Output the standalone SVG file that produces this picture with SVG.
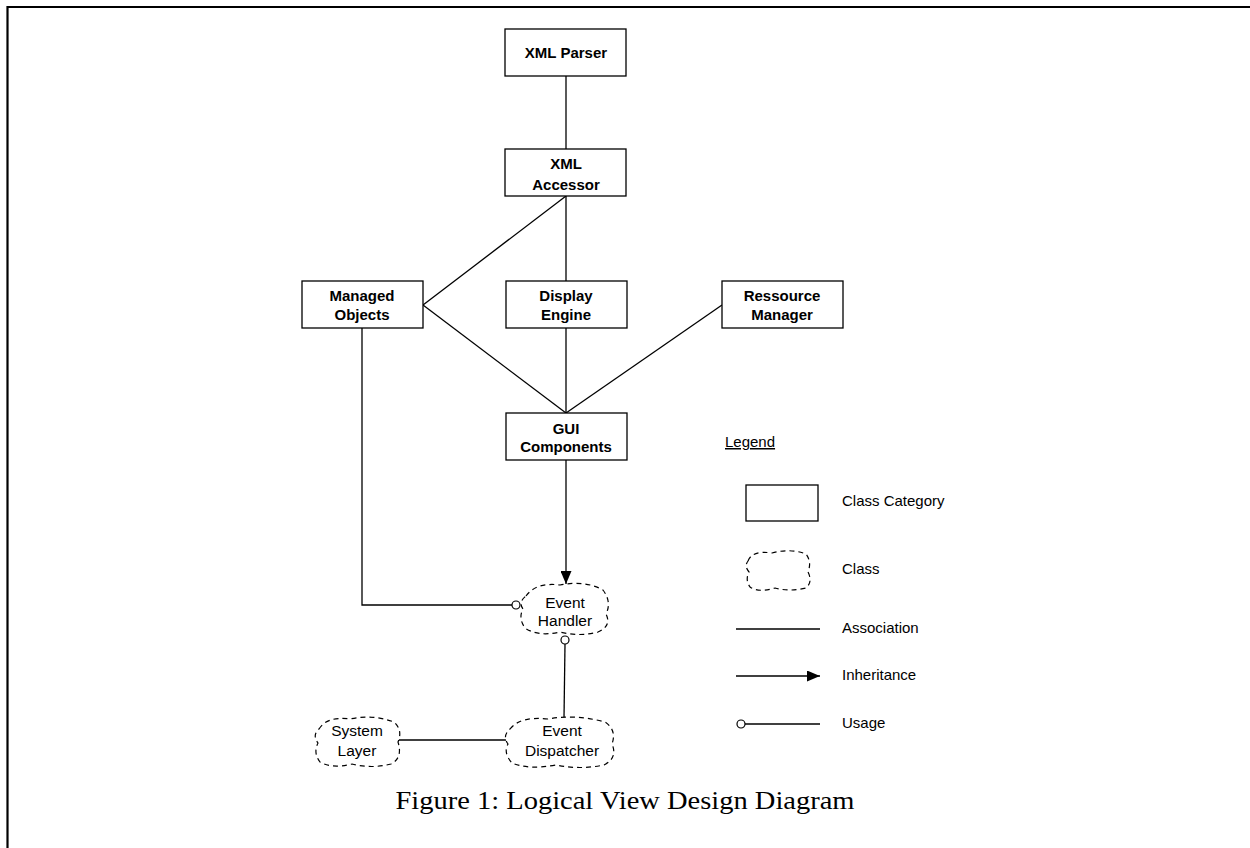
<svg xmlns="http://www.w3.org/2000/svg" width="1250" height="848" viewBox="0 0 1250 848">
<style>
.box{fill:#fff;stroke:#000;stroke-width:1.3}
.cloud{fill:#fff;stroke:#000;stroke-width:1.2;stroke-dasharray:5 4}
.ln{fill:none;stroke:#000;stroke-width:1.3}
.bt{font-family:"Liberation Sans",Arial,sans-serif;font-weight:bold;font-size:15px;text-anchor:middle;fill:#000}
.ct{font-family:"Liberation Sans",Arial,sans-serif;font-size:15.5px;text-anchor:middle;fill:#000}
.lt{font-family:"Liberation Sans",Arial,sans-serif;font-size:15px;fill:#000}
.use{fill:#fff;stroke:#000;stroke-width:1.2}
</style>
<defs>
<marker id="arrow" markerWidth="13" markerHeight="11" refX="13" refY="5.5" orient="auto" markerUnits="userSpaceOnUse">
<path d="M0,0 L13,5.5 L0,11 Z" fill="#000"/>
</marker>
</defs>
<rect width="1250" height="848" fill="#fff"/>
<path d="M7.5,848 V7 H1250" fill="none" stroke="#000" stroke-width="2.2"/>

<g id="connectors">
<line class="ln" x1="566" y1="76" x2="566" y2="149"/>
<line class="ln" x1="566" y1="196" x2="423" y2="305"/>
<line class="ln" x1="566" y1="196" x2="566" y2="281"/>
<line class="ln" x1="423" y1="305" x2="566" y2="413"/>
<line class="ln" x1="566" y1="328" x2="566" y2="413"/>
<line class="ln" x1="722" y1="305" x2="566" y2="413"/>
<line class="ln" x1="566" y1="460" x2="566" y2="584" marker-end="url(#arrow)"/>
<polyline class="ln" points="362,328 362,605 512,605"/>
<circle class="use" cx="516" cy="605" r="4"/>
<line class="ln" x1="565" y1="644" x2="564" y2="718"/>
<circle class="use" cx="565" cy="640" r="4"/>
<line class="ln" x1="399" y1="740" x2="506" y2="740"/>
</g>

<g id="xml-parser">
<rect class="box" x="505" y="29" width="121" height="47"/>
<text class="bt" x="566" y="58">XML Parser</text>
</g>
<g id="xml-accessor">
<rect class="box" x="505" y="149" width="121" height="47"/>
<text class="bt" x="566" y="169">XML</text>
<text class="bt" x="566" y="190">Accessor</text>
</g>
<g id="managed-objects">
<rect class="box" x="302" y="281" width="121" height="47"/>
<text class="bt" x="362" y="301">Managed</text>
<text class="bt" x="362" y="320">Objects</text>
</g>
<g id="display-engine">
<rect class="box" x="506" y="281" width="121" height="47"/>
<text class="bt" x="566" y="301">Display</text>
<text class="bt" x="566" y="320">Engine</text>
</g>
<g id="ressource-manager">
<rect class="box" x="722" y="281" width="121" height="47"/>
<text class="bt" x="782" y="301">Ressource</text>
<text class="bt" x="782" y="320">Manager</text>
</g>
<g id="gui-components">
<rect class="box" x="506" y="413" width="121" height="47"/>
<text class="bt" x="566" y="434">GUI</text>
<text class="bt" x="566" y="452">Components</text>
</g>

<g id="event-handler">
<path class="cloud" d="M526,596 Q536,582 560,585 Q585,580 603,590 Q612,602 606,614 Q612,626 598,632 Q580,637 560,632 Q538,637 525,628 Q518,618 523,609 Q518,602 526,596 Z"/>
<text class="ct" x="565" y="608">Event</text>
<text class="ct" x="565" y="626">Handler</text>
</g>
<g id="event-dispatcher">
<path class="cloud" d="M510,729 Q520,716 548,719 Q575,714 605,722 Q617,730 612,744 Q618,758 604,765 Q580,770 556,765 Q528,770 512,763 Q503,753 508,744 Q502,736 510,729 Z"/>
<text class="ct" x="562" y="736">Event</text>
<text class="ct" x="562" y="756">Dispatcher</text>
</g>
<g id="system-layer">
<path class="cloud" d="M319,729 Q327,716 350,719 Q372,714 394,722 Q403,730 398,742 Q403,758 391,764 Q372,769 352,764 Q332,769 320,762 Q313,753 318,743 Q312,735 319,729 Z"/>
<text class="ct" x="357" y="736">System</text>
<text class="ct" x="357" y="756">Layer</text>
</g>

<g id="legend">
<text class="lt" x="725" y="447" text-decoration="underline">Legend</text>
<rect class="box" x="746" y="485" width="72" height="36"/>
<text class="lt" x="842" y="506">Class Category</text>
<path class="cloud" d="M748,561 Q752,550 772,553 Q790,548 806,554 Q812,562 808,572 Q813,582 806,588 Q790,592 775,588 Q758,593 750,587 Q745,580 749,572 Q744,566 748,561 Z"/>
<text class="lt" x="842" y="574">Class</text>
<line class="ln" x1="736" y1="629" x2="820" y2="629"/>
<text class="lt" x="842" y="633">Association</text>
<line class="ln" x1="736" y1="676" x2="820" y2="676" marker-end="url(#arrow)"/>
<text class="lt" x="842" y="680">Inheritance</text>
<line class="ln" x1="745" y1="724" x2="820" y2="724"/>
<circle class="use" cx="741" cy="724" r="4"/>
<text class="lt" x="842" y="728">Usage</text>
</g>

<text x="625" y="809" text-anchor="middle" font-family="'Liberation Serif','Times New Roman',serif" font-size="26" textLength="459" lengthAdjust="spacingAndGlyphs">Figure 1: Logical View Design Diagram</text>
</svg>
